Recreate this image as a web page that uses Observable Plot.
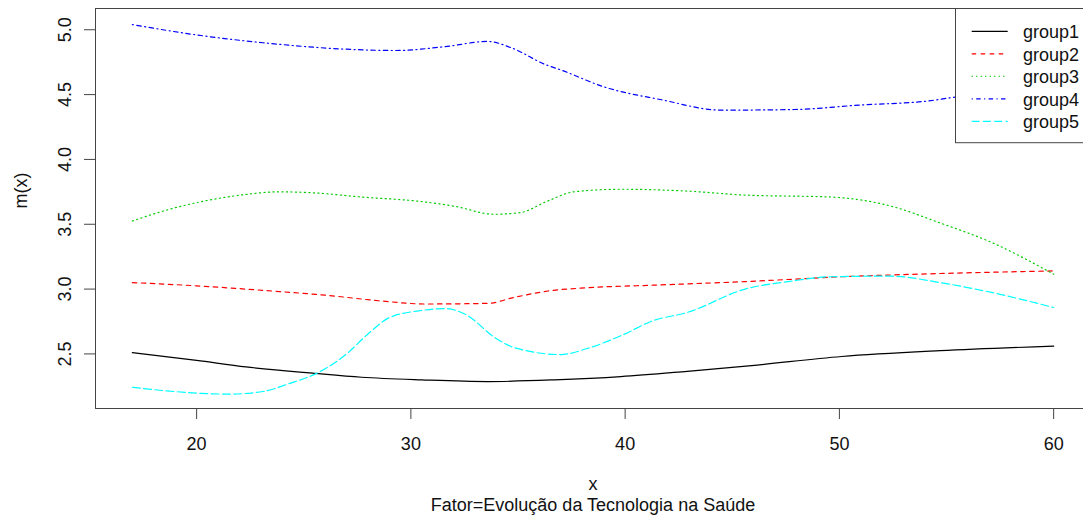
<!DOCTYPE html>
<html>
<head>
<meta charset="utf-8">
<script src="https://cdn.jsdelivr.net/npm/d3@7"></script>
<script src="https://cdn.jsdelivr.net/npm/@observablehq/plot@0.6"></script>
<style>
  html, body { margin: 0; padding: 0; background: white; overflow: hidden; }
  #wrap { position: relative; width: 1083px; height: 524px; overflow: hidden; }
  #legend { position: absolute; left: 955px; top: 8px; }
</style>
</head>
<body>
<div id="wrap"></div>
<script>
// ---- data ----
const groups = ["group1", "group2", "group3", "group4", "group5"];
const colors = ["#000000", "#FF0000", "#00CD00", "#0000FF", "#00FFFF"];
const dashes = ["none", "4.5,4.5", "1.1,3.4", "1.1,3.4,4.5,3.4", "7.9,3.4"];

const g1x = [17, 20, 22.3, 25.5, 27.7, 30.5, 33.6, 36.7, 39.8, 42.9, 45.9, 50.1, 54.7, 60];
const g1y = [2.51, 2.45, 2.40, 2.35, 2.32, 2.30, 2.287, 2.30, 2.325, 2.366, 2.41, 2.48, 2.525, 2.56];

const g2x = [17, 20, 23.1, 26.2, 28.5, 30.7, 33.6, 34.8, 36.4, 38.2, 41.3, 45.9, 50.1, 54.7, 60];
const g2y = [3.05, 3.025, 2.99, 2.95, 2.91, 2.885, 2.89, 2.935, 2.985, 3.01, 3.03, 3.06, 3.095, 3.12, 3.14];

const g3x = [17, 18.4, 20.7, 22.3, 23.8, 25.4, 27.7, 30.5, 32.0, 33.9, 35.1, 36.4, 37.6, 39.8, 42.9, 45.6, 49.6, 52.4, 54.7, 57.1, 60];
const g3y = [3.525, 3.60, 3.69, 3.73, 3.75, 3.743, 3.71, 3.675, 3.64, 3.577, 3.59, 3.68, 3.75, 3.77, 3.756, 3.725, 3.71, 3.64, 3.51, 3.36, 3.115];

const g4x = [17, 20, 23.1, 27, 29.3, 31.6, 33.6, 34.7, 36.3, 37.0, 39.0, 41.7, 44.5, 47.9, 51.0, 54.1, 55.4, 58, 60];
const g4y = [5.04, 4.96, 4.90, 4.85, 4.84, 4.87, 4.91, 4.86, 4.73, 4.69, 4.56, 4.46, 4.38, 4.385, 4.42, 4.45, 4.48, 4.51, 4.53];

const g5x = [17, 18.4, 21.5, 23.1, 24.3, 25.55, 27.0, 28.0, 29.0, 30.5, 31.6, 32.6, 33.9, 34.8, 37.0, 38.2, 39.8, 41.3, 42.9, 45.6, 47.7, 49.6, 52.4, 54.7, 57.1, 60];
const g5y = [2.243, 2.218, 2.19, 2.21, 2.27, 2.346, 2.50, 2.654, 2.78, 2.835, 2.85, 2.80, 2.628, 2.55, 2.495, 2.54, 2.64, 2.756, 2.82, 3.0, 3.06, 3.095, 3.10, 3.05, 2.974, 2.858];

const xTicks = [20, 30, 40, 50, 60];
const yTicks = [2.5, 3.0, 3.5, 4.0, 4.5, 5.0];
const xLabel = "x";
const yLabel = "m(x)";
const subTitle = "Fator=Evolução da Tecnologia na Saúde";

// ---- build table ----
const seriesX = [g1x, g2x, g3x, g4x, g5x];
const seriesY = [g1y, g2y, g3y, g4y, g5y];
const tables = groups.map((g, i) => seriesX[i].map((x, j) => ({group: g, x, y: seriesY[i][j]})));

const font = "'Liberation Sans', Arial, Helvetica, sans-serif";

const plot = Plot.plot({
  width: 1083,
  height: 524,
  marginLeft: 95,
  marginRight: -7,
  marginTop: 8,
  marginBottom: 116,
  style: {fontFamily: font, fontSize: "18px", color: "#111", background: "white", overflow: "hidden"},
  x: {domain: [15.28, 61.72]},
  y: {domain: [2.079, 5.164]},
  marks: [
    ...tables.map((t, i) => Plot.line(t, {
      x: "x", y: "y", stroke: colors[i], strokeWidth: 1.2,
      strokeDasharray: dashes[i], curve: "monotone-x"
    })),
    Plot.frame({stroke: "#444", strokeWidth: 1}),
    Plot.axisX(xTicks, {tickSize: 11, tickPadding: 17.5, stroke: "#444", label: null, fill: "#111"}),
    Plot.axisY(yTicks, {tickSize: 11, tickPadding: 14, tickRotate: -90, tickFormat: d3.format(".1f"), stroke: "#444", label: null, fill: "#111"}),
    Plot.text([yLabel], {frameAnchor: "left", dx: -69, rotate: -90, lineAnchor: "bottom", fill: "#111"}),
    Plot.text([xLabel], {frameAnchor: "bottom", dy: 81, lineAnchor: "bottom", fill: "#111"}),
    Plot.text([subTitle], {frameAnchor: "bottom", dy: 102, lineAnchor: "bottom", fill: "#111"})
  ]
});
document.getElementById("wrap").appendChild(plot);

// ---- legend (top-right, drawn over the plot) ----
const lg = d3.select("#wrap").append("svg")
  .attr("id", "legend")
  .attr("width", 140)
  .attr("height", 136)
  .style("font-family", font)
  .style("font-size", "18px");
lg.append("rect")
  .attr("x", 0.5).attr("y", 0.5)
  .attr("width", 200).attr("height", 134.2)
  .attr("fill", "white").attr("stroke", "#444");
groups.forEach((g, i) => {
  const yy = 23.3 + i * 22.5;
  lg.append("line")
    .attr("x1", 16.7).attr("x2", 52.7)
    .attr("y1", yy).attr("y2", yy)
    .attr("stroke", colors[i]).attr("stroke-width", 1.2)
    .attr("stroke-dasharray", dashes[i]);
  lg.append("text")
    .attr("x", 68).attr("y", yy + 7)
    .attr("fill", "#111")
    .text(g);
});
</script>
</body>
</html>
